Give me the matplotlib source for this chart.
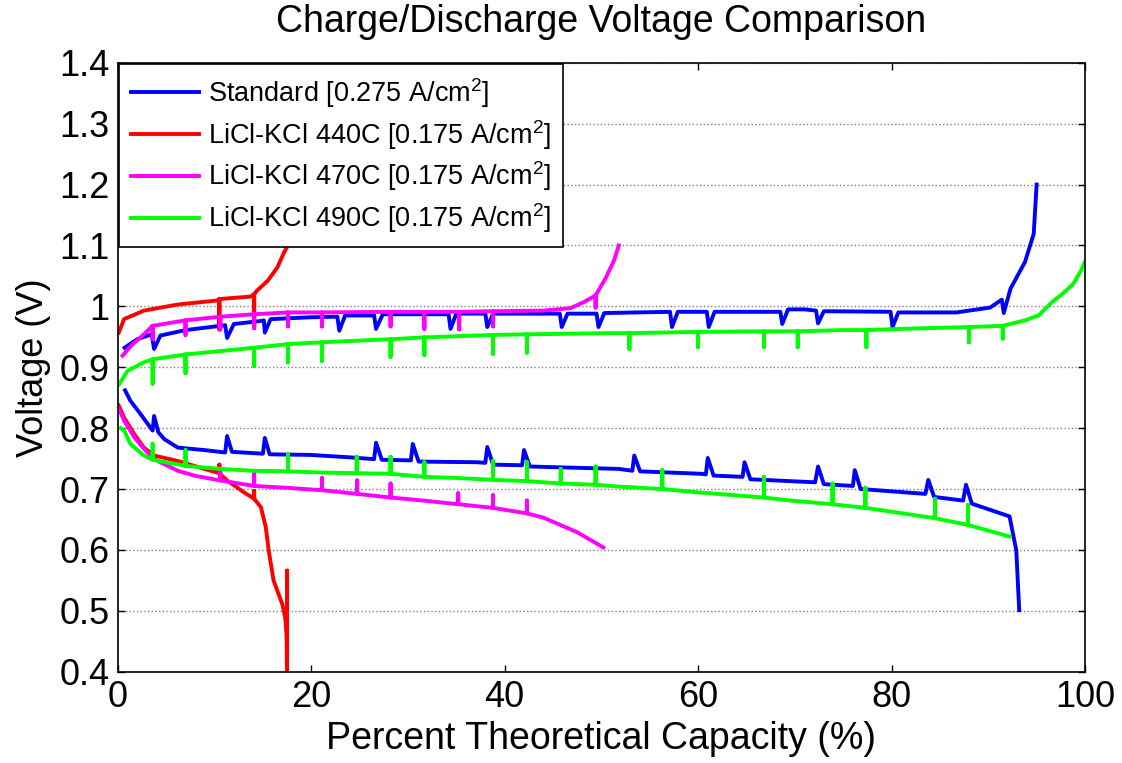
"""Charge/discharge voltage comparison chart."""

import matplotlib
matplotlib.use('Agg')
import matplotlib.pyplot as plt
from matplotlib.ticker import FuncFormatter

# ---- data: (percent capacity, volts) ----
# Standard cell, sawtooth interruptions written out point by point
std_charge = [
    (0.7, 0.932), (2.0, 0.946), (3.5, 0.954), (3.75, 0.930), (4.4, 0.952),
    (7.0, 0.961), (10.6, 0.968), (11.1, 0.969), (11.3, 0.948), (12.0, 0.971),
    (14.8, 0.976), (15.1, 0.977), (15.2, 0.957), (15.8, 0.979), (19.9, 0.982),
    (22.7, 0.983), (22.9, 0.960), (23.5, 0.985), (26.5, 0.985), (26.7, 0.963),
    (27.4, 0.987), (34.2, 0.987), (34.4, 0.963), (35.0, 0.988), (38.0, 0.988),
    (38.2, 0.966), (38.8, 0.988), (45.7, 0.988), (45.9, 0.966), (46.5, 0.988),
    (49.5, 0.988), (49.7, 0.966), (50.3, 0.989), (57.1, 0.991), (57.3, 0.966),
    (57.9, 0.991), (60.9, 0.991), (61.1, 0.966), (61.7, 0.991), (68.5, 0.991),
    (68.7, 0.971), (69.3, 0.995), (71.0, 0.995), (72.2, 0.993), (72.4, 0.972),
    (73.0, 0.992), (79.9, 0.991), (80.1, 0.966), (80.7, 0.990), (86.7, 0.990),
    (90.2, 0.998), (91.4, 1.011), (91.6, 0.989), (92.3, 1.029), (93.8, 1.073),
    (94.7, 1.119), (95.0, 1.200),
]
std_discharge = [
    (0.75, 0.862), (1.3, 0.845), (2.4, 0.822), (3.6, 0.796), (3.75, 0.820),
    (4.2, 0.793), (4.8, 0.782), (6.2, 0.768), (8.9, 0.764), (11.1, 0.760),
    (11.3, 0.787), (11.8, 0.761), (15.0, 0.758), (15.2, 0.784), (15.7, 0.757),
    (19.9, 0.756), (24.0, 0.752), (26.5, 0.749), (26.7, 0.776), (27.3, 0.748),
    (30.3, 0.747), (30.5, 0.774), (31.1, 0.745), (37.1, 0.744), (38.0, 0.743),
    (38.2, 0.769), (38.8, 0.740), (41.8, 0.739), (42.0, 0.764), (42.6, 0.737),
    (44.7, 0.736), (51.8, 0.733), (53.2, 0.730), (53.4, 0.755), (54.0, 0.729),
    (60.3, 0.725), (60.8, 0.724), (61.0, 0.751), (61.6, 0.722), (64.6, 0.720),
    (64.8, 0.744), (65.4, 0.716), (72.1, 0.711), (72.4, 0.737), (73.0, 0.708),
    (76.0, 0.705), (76.2, 0.731), (76.8, 0.700), (83.5, 0.692), (83.8, 0.715),
    (84.4, 0.687), (87.4, 0.681), (87.7, 0.707), (88.3, 0.676), (92.2, 0.655),
    (92.9, 0.599), (93.2, 0.501),
]

# LiCl-KCl cells: smooth base curve + vertical spikes (x, base, tip)
t440_charge = [
    (0.1, 0.957), (0.65, 0.979), (2.7, 0.993), (6.2, 1.003), (10.5, 1.010),
    (13.7, 1.016), (14.1, 1.020), (14.4, 1.026), (15.5, 1.042), (16.5, 1.064),
    (17.2, 1.089), (17.7, 1.103),
]
t440_charge_spikes = [(10.5, 1.012, 0.962), (14.1, 1.020, 0.966)]
t440_discharge = [
    (0.1, 0.837), (0.66, 0.817), (1.7, 0.790), (2.7, 0.768), (3.75, 0.755),
    (6.2, 0.746), (7.9, 0.738), (9.6, 0.730), (10.5, 0.726), (11.3, 0.714),
    (13.0, 0.695), (14.1, 0.684), (14.8, 0.670), (15.3, 0.637), (15.6, 0.599),
    (16.1, 0.550), (17.0, 0.511), (17.3, 0.490), (17.45, 0.460),
]
t440_discharge_spikes = [(10.5, 0.726, 0.740), (14.1, 0.684, 0.697),
                         (17.5, 0.380, 0.566)]

t470_charge = [
    (0.5, 0.919), (1.35, 0.935), (2.7, 0.954), (3.6, 0.968), (7.0, 0.977),
    (10.6, 0.983), (14.1, 0.987), (17.6, 0.990), (21.1, 0.990), (28.2, 0.991),
    (31.7, 0.991), (35.3, 0.991), (38.8, 0.992), (44.0, 0.993), (46.8, 0.997),
    (48.2, 1.007), (49.4, 1.018), (50.4, 1.045), (51.3, 1.075), (51.8, 1.100),
]
t470_charge_spikes = [
    (3.6, 0.968, 0.946), (7.0, 0.977, 0.953), (10.6, 0.983, 0.962),
    (14.1, 0.987, 0.964), (17.6, 0.990, 0.967), (21.1, 0.990, 0.967),
    (28.2, 0.991, 0.967), (31.7, 0.991, 0.963), (35.3, 0.991, 0.962),
    (38.8, 0.992, 0.967), (49.4, 1.018, 0.998),
]
t470_discharge = [
    (0.14, 0.831), (0.66, 0.812), (1.7, 0.785), (2.7, 0.766), (3.75, 0.749),
    (6.2, 0.730), (7.9, 0.722), (10.6, 0.714), (14.1, 0.705), (17.5, 0.702),
    (21.1, 0.698), (24.75, 0.692), (28.2, 0.686), (31.6, 0.681), (35.2, 0.675),
    (38.8, 0.669), (42.3, 0.660), (44.0, 0.653), (47.5, 0.629), (50.2, 0.604),
]
t470_discharge_spikes = [
    (10.6, 0.714, 0.733), (14.1, 0.705, 0.725), (21.1, 0.698, 0.718),
    (24.75, 0.692, 0.714), (28.2, 0.686, 0.709), (35.2, 0.675, 0.693),
    (38.8, 0.669, 0.690), (42.3, 0.660, 0.681),
]

t490_charge = [
    (0.14, 0.872), (1.0, 0.894), (2.7, 0.908), (3.6, 0.913), (7.0, 0.921),
    (14.1, 0.932), (17.6, 0.938), (21.1, 0.941), (28.2, 0.946), (31.7, 0.949),
    (38.8, 0.953), (42.3, 0.954), (50.9, 0.956), (52.9, 0.956), (60.0, 0.958),
    (66.8, 0.959), (70.3, 0.959), (74.9, 0.961), (77.4, 0.961), (81.0, 0.963),
    (88.0, 0.966), (91.5, 0.968), (93.8, 0.977), (95.2, 0.985), (96.6, 1.007),
    (97.7, 1.021), (98.8, 1.037), (99.6, 1.059), (100.0, 1.073),
]
t490_charge_spikes = [
    (3.6, 0.913, 0.873), (7.0, 0.921, 0.890), (14.1, 0.932, 0.902),
    (17.6, 0.938, 0.908), (21.1, 0.941, 0.910), (28.2, 0.946, 0.917),
    (31.7, 0.949, 0.920), (38.8, 0.953, 0.922), (42.3, 0.954, 0.924),
    (52.9, 0.956, 0.930), (60.0, 0.958, 0.933), (66.8, 0.959, 0.933),
    (70.3, 0.959, 0.933), (77.4, 0.961, 0.933), (88.0, 0.966, 0.941),
    (91.5, 0.968, 0.947),
]
t490_discharge = [
    (0.3, 0.800), (0.66, 0.796), (1.3, 0.774), (2.7, 0.755), (3.6, 0.748),
    (7.0, 0.738), (10.6, 0.733), (14.1, 0.730), (17.6, 0.729), (21.1, 0.727),
    (24.7, 0.726), (28.2, 0.725), (31.7, 0.720), (35.2, 0.718), (38.8, 0.715),
    (42.3, 0.713), (45.8, 0.709), (49.4, 0.707), (51.8, 0.704), (56.3, 0.700),
    (60.0, 0.6945), (66.8, 0.686), (69.6, 0.681), (73.9, 0.675), (77.3, 0.669),
    (80.3, 0.662), (84.5, 0.652), (87.9, 0.641), (92.2, 0.622),
]
t490_discharge_spikes = [
    (3.6, 0.748, 0.774), (7.0, 0.738, 0.764), (17.6, 0.729, 0.757),
    (24.7, 0.726, 0.753), (28.2, 0.725, 0.753), (31.7, 0.720, 0.744),
    (38.8, 0.715, 0.746), (42.3, 0.713, 0.744), (45.8, 0.709, 0.733),
    (49.4, 0.707, 0.737), (56.3, 0.700, 0.731), (66.8, 0.686, 0.720),
    (73.9, 0.675, 0.709), (77.3, 0.669, 0.702), (84.5, 0.652, 0.684),
    (87.9, 0.641, 0.674),
]

labels = [
    'Standard [0.275 A/cm$^2$]',
    'LiCl-KCl 440C [0.175 A/cm$^2$]',
    'LiCl-KCl 470C [0.175 A/cm$^2$]',
    'LiCl-KCl 490C [0.175 A/cm$^2$]',
]
colors = ['#0000ff', '#ff0000', '#ff00ff', '#00ff00']


def merge_spikes(base, spikes=()):
    """Insert vertical interruption spikes into a base curve."""
    pts = list(base)
    for x, b, t in spikes:
        pts += [(x, b), (x, t), (x, b)]
    pts.sort(key=lambda p: p[0])  # stable, keeps spike order
    return [p[0] for p in pts], [p[1] for p in pts]


series = [
    (std_charge, (), std_discharge, ()),
    (t440_charge, t440_charge_spikes, t440_discharge, t440_discharge_spikes),
    (t470_charge, t470_charge_spikes, t470_discharge, t470_discharge_spikes),
    (t490_charge, t490_charge_spikes, t490_discharge, t490_discharge_spikes),
]

plt.rcParams['font.family'] = ['Liberation Sans', 'DejaVu Sans']
plt.rcParams['mathtext.fontset'] = 'custom'
plt.rcParams['mathtext.rm'] = 'Liberation Sans'
plt.rcParams['mathtext.it'] = 'Liberation Sans:italic'

fig = plt.figure(figsize=(11.22, 7.63), dpi=100)
ax = fig.add_axes([0.105, 0.1197, 0.862, 0.798])

for (ch, ch_sp, dis, dis_sp), color, label in zip(series, colors, labels):
    x, v = merge_spikes(ch, ch_sp)
    ax.plot(x, v, color=color, linewidth=2.8, label=label)
    x, v = merge_spikes(dis, dis_sp)
    ax.plot(x, v, color=color, linewidth=2.8, label='_nolegend_')

ax.set_xlim(0, 100)
ax.set_ylim(0.4, 1.4)
ax.set_xticks(range(0, 101, 20))
ax.set_yticks([0.4 + 0.1 * i for i in range(11)])
ax.yaxis.set_major_formatter(FuncFormatter(lambda v, _: f'{v:g}'))
ax.tick_params(direction='in', length=5, width=1, top=True, right=True,
               labelsize=26, pad=6)
for sp in ax.spines.values():
    sp.set_linewidth(1.2)

ax.yaxis.grid(True, color='#808080', linestyle=':', linewidth=1.0)
ax.set_axisbelow(True)

ax.set_title('Charge/Discharge Voltage Comparison', fontsize=27, pad=22)
ax.set_xlabel('Percent Theoretical Capacity (%)', fontsize=27, labelpad=4)
ax.set_ylabel('Voltage (V)', fontsize=26, labelpad=6)

leg = ax.legend(loc='upper left', fontsize=19.5, frameon=True, fancybox=False,
                framealpha=1, edgecolor='black', borderaxespad=0.05,
                handlelength=2.5, handletextpad=0.35, labelspacing=0.30,
                borderpad=0.43)
leg.get_frame().set_linewidth(1.2)

fig.savefig('out.png', dpi=100, facecolor='white')
